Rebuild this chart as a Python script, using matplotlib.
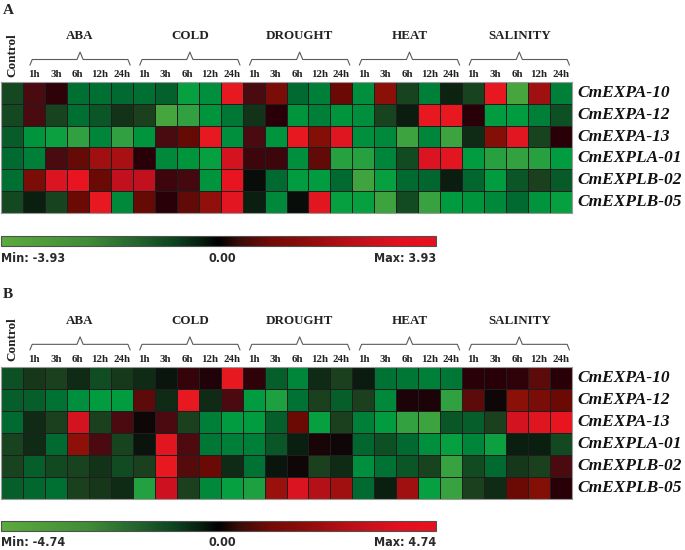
import numpy as np
import matplotlib
matplotlib.use("Agg")
import matplotlib.pyplot as plt
from matplotlib import font_manager
from matplotlib.colors import LinearSegmentedColormap, Normalize
from matplotlib.cm import ScalarMappable

# ---------------- data ----------------
genes = ["CmEXPA-10", "CmEXPA-12", "CmEXPA-13", "CmEXPLA-01", "CmEXPLB-02", "CmEXPLB-05"]
treatments = ["ABA", "COLD", "DROUGHT", "HEAT", "SALINITY"]
times = ["1h", "3h", "6h", "12h", "24h"]
control_label = "Control"

vmax_a = 3.93
vmax_b = 4.74

# columns: Control, ABA 1h..24h, COLD, DROUGHT, HEAT, SALINITY
values_a = [
    [-0.98, 0.98, 0.47, -1.77, -1.77, -1.65, -1.77, -1.49, -2.75, -2.36, 3.73, 0.98, 1.77, -1.65, -2.04, 1.57, -2.36, 1.97, -0.86, -2.04, -0.39, -0.86, 3.73, -3.73, 2.55, -2.04],
    [-0.98, 0.98, -0.86, -1.77, -1.26, -0.59, -0.79, -3.73, -3.34, -2.44, -1.89, -0.59, 0.39, -2.44, -2.04, -2.44, -2.36, -0.86, -0.28, 3.73, 3.73, 0.39, -2.59, -2.59, -2.04, -1.18],
    [-1.41, -2.44, -2.83, -3.34, -2.16, -3.34, -2.44, 0.98, 1.49, 3.73, -2.36, 0.98, -2.44, 3.73, 1.89, 3.54, -2.36, -2.24, -3.54, -2.16, -3.54, -0.47, 1.89, 3.62, -0.86, 0.39],
    [-1.65, -2.04, 0.98, 1.49, 2.55, 2.67, 0.39, -2.24, -2.44, -2.75, 3.34, 0.71, 0.71, -2.36, 1.41, -3.22, -3.22, -2.16, -1.02, 3.46, 3.62, -2.59, -3.22, -3.38, -3.22, -2.59],
    [-1.77, 1.77, 3.46, 3.81, 1.57, 3.07, 3.07, 0.71, 0.86, -2.44, 3.81, -0.08, -1.65, -2.59, -2.59, -1.65, -3.62, -2.75, -1.65, -1.57, -0.28, -1.57, -2.59, -1.26, -0.79, -1.38],
    [-0.98, -0.31, -0.86, 1.57, 3.73, -2.24, 1.49, 0.39, 1.41, 2.16, 3.62, -0.31, -2.24, -0.08, 3.62, -2.75, -2.75, -3.54, -1.02, -3.46, -2.55, -2.44, -2.24, -1.65, -2.44, -2.75],
]

values_b = [
    [-1.42, -0.81, -0.95, -0.57, -1.33, -0.85, -0.57, -0.24, 0.71, 0.33, 4.50, 0.57, -1.71, -2.61, -0.57, -0.95, -0.33, -2.18, -2.28, -2.46, -2.28, 0.47, 0.47, 0.57, 1.56, 0.47],
    [-1.71, -1.71, -2.18, -2.84, -3.13, -3.13, 1.56, -0.57, 4.50, -0.57, 1.19, -3.13, -3.70, -2.18, -0.95, -1.71, -0.95, -2.70, 0.28, 0.28, -4.03, 1.56, 0.09, 2.37, 2.13, 1.90],
    [-1.99, -0.57, -0.95, 4.03, -0.95, 1.19, 0.09, 1.19, -0.95, -2.46, -3.13, -3.13, -1.71, 1.90, -3.32, -0.95, -2.46, -3.13, -4.08, -4.27, -1.56, -1.71, -0.95, 4.03, 4.27, 4.60],
    [-1.04, -0.57, -1.99, 2.46, 1.19, -1.04, -0.19, 4.36, 1.28, -2.28, -2.46, -2.46, -1.56, -0.38, 0.24, 0.09, -1.90, -1.42, -1.99, -2.84, -3.32, -2.61, -3.41, -0.38, -0.38, -1.19],
    [-1.04, -1.71, -1.19, -1.04, -0.71, -1.28, -0.95, 4.50, 1.42, 1.90, -0.57, -2.18, -0.24, 0.09, -0.95, -0.57, -2.84, -2.18, -1.52, -1.04, -4.17, -1.28, -1.99, -0.81, -0.95, 1.19],
    [-1.71, -1.90, -2.13, -0.95, -0.81, -0.57, -3.79, 3.89, -0.95, -2.70, -3.32, -3.70, 2.84, 4.17, 3.41, 3.08, -1.99, -0.38, 3.08, -3.32, -4.17, -0.95, -0.57, 1.90, 2.28, 0.47],
]

# ---------------- styling ----------------
W, H = 685, 550
fig = plt.figure(figsize=(W / 100, H / 100), dpi=100)

cell_nodes = [
    (0.000, "#50a83c"), (0.075, "#30a040"), (0.160, "#00a040"), (0.225, "#00853a"),
    (0.290, "#006a30"), (0.350, "#0d5024"), (0.400, "#1a401e"), (0.450, "#0c2412"),
    (0.500, "#080808"), (0.550, "#2a0008"), (0.625, "#4a0a10"), (0.700, "#6a0a05"),
    (0.750, "#8a1008"), (0.825, "#a01010"), (0.900, "#c81020"), (0.975, "#e81820"),
    (1.000, "#e8101e"),
]
cell_cmap = LinearSegmentedColormap.from_list("cells", cell_nodes)

bar_nodes = [
    (0.00, "#5cab3d"), (0.20, "#3f8c36"), (0.32, "#21612b"), (0.40, "#0c4220"),
    (0.46, "#061d0e"), (0.50, "#000000"), (0.55, "#3c0c08"), (0.62, "#720a06"),
    (0.70, "#8e0c0a"), (0.80, "#b81016"), (0.92, "#e2101e"), (1.00, "#e8101e"),
]
bar_cmap = LinearSegmentedColormap.from_list("bar", bar_nodes)

serif = ["Liberation Serif", "DejaVu Serif"]

# pick a condensed sans for the colour-bar labels
_fonts = font_manager.fontManager.ttflist
_names = {f.name for f in _fonts}
if "Liberation Sans Narrow" in _names:
    cb_font = dict(family=["Liberation Sans Narrow"], fontsize=10, fontweight="bold")
elif any(f.name == "DejaVu Sans" and "condensed" in str(f.stretch) for f in _fonts):
    cb_font = dict(family=["DejaVu Sans"], fontstretch="condensed", fontsize=9, fontweight="bold")
else:
    cb_font = dict(family=["Liberation Sans"], fontsize=9, fontweight="bold")


def px_rect(left, top, width, height):
    return [left / W, 1 - (top + height) / H, width / W, height / H]


def draw_panel(letter, letter_y, hm_top, hm_h, cb_top, lab_y, values, vmax):
    ncol = 1 + len(treatments) * len(times)
    nrow = len(genes)
    ax = fig.add_axes(px_rect(1, hm_top, 571, hm_h))
    norm = Normalize(-vmax, vmax)
    ax.pcolormesh(np.array(values), cmap=cell_cmap, norm=norm,
                  edgecolors="#1e1e1e", linewidth=0.6)
    ax.set_xlim(0, ncol)
    ax.set_ylim(nrow, 0)
    ax.set_xticks([])
    ax.set_yticks([])
    for s in ax.spines.values():
        s.set_edgecolor("#9a9a9a")
        s.set_linewidth(0.8)

    # Control label
    ax.text(0.5, -1.25, control_label, rotation=90, ha="center", va="center",
            fontsize=9.5, fontweight="bold", family=serif, color="#222222", clip_on=False)
    # time labels, group labels and braces
    for g, name in enumerate(treatments):
        start = 1 + g * len(times)
        for k, t in enumerate(times):
            ax.text(start + k + 0.5, -0.33, t, ha="center", va="center",
                    fontsize=7.8, fontweight="bold", family=serif, color="#222222", clip_on=False)
        c = start + 2.6
        hw = 2.28
        bx = [c - hw, c - hw + 0.1, c - 0.14, c, c + 0.14, c + hw - 0.1, c + hw]
        by = [-0.78, -1.03, -1.03, -1.37, -1.03, -1.03, -0.78]
        ax.plot(bx, by, color="#5a5a5a", lw=0.8, clip_on=False, solid_joinstyle="round")
        ax.text(start + 2.6, -2.1, name, ha="center", va="center",
                fontsize=9.4, fontweight="bold", family=serif, color="#222222", clip_on=False)
    # gene labels
    for r, gname in enumerate(genes):
        ax.text(ncol + 0.25, r + 0.5, gname, ha="left", va="center",
                fontsize=12.5, fontweight="bold", fontstyle="italic",
                family=serif, color="#111111", clip_on=False)

    # panel letter
    fig.text(3 / W, 1 - letter_y / H, letter, ha="left", va="center",
             fontsize=11, fontweight="bold", family=serif, color="#222222")

    # colour bar
    cax = fig.add_axes(px_rect(1, cb_top, 435, 10))
    cb = fig.colorbar(ScalarMappable(norm=norm, cmap=bar_cmap), cax=cax,
                      orientation="horizontal")
    cb.set_ticks([])
    cb.outline.set_edgecolor("#505050")
    cb.outline.set_linewidth(0.8)
    fig.text(1 / W, 1 - lab_y / H, f"Min: {-vmax:.2f}", ha="left", va="center",
             color="#2a2a2a", **cb_font)
    fig.text(222 / W, 1 - lab_y / H, f"{0:.2f}", ha="center", va="center",
             color="#2a2a2a", **cb_font)
    fig.text(436 / W, 1 - lab_y / H, f"Max: {vmax:.2f}", ha="right", va="center",
             color="#2a2a2a", **cb_font)


draw_panel("A", 10, 82, 131, 236, 258, values_a, vmax_a)
draw_panel("B", 295, 367, 132, 521, 543, values_b, vmax_b)

fig.savefig("out.png", dpi=100, facecolor="white")
